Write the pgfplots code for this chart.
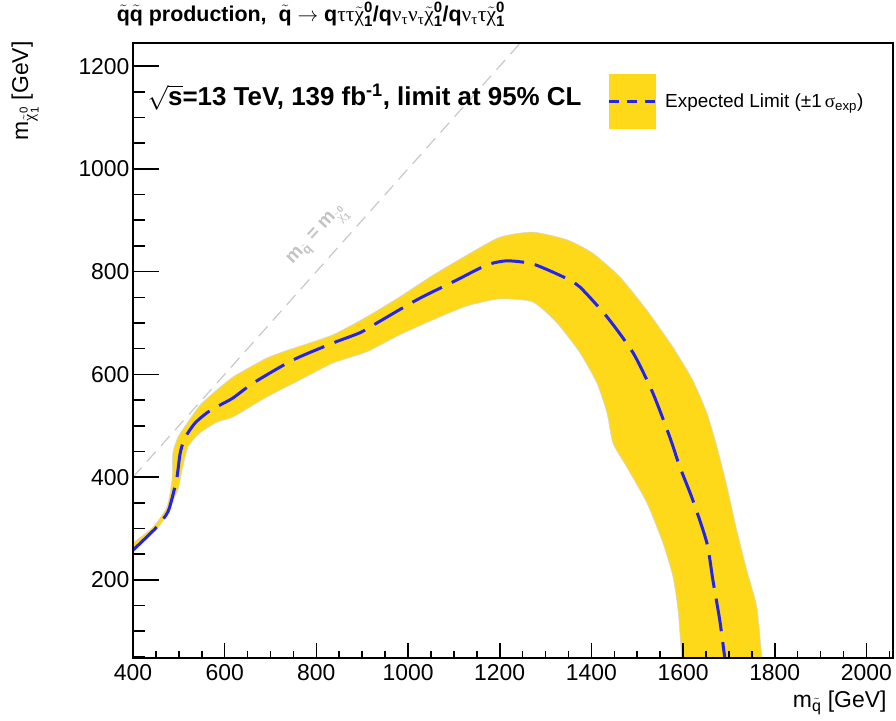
\documentclass[border=0pt]{standalone}
\usepackage{amsmath}
\usepackage{fontspec}
\setmainfont{Liberation Sans}
\newfontfamily\grk{Liberation Serif}
\usepackage{pgfplots}
\pgfplotsset{compat=1.18}
\definecolor{bandyellow}{RGB}{253,217,26}
\definecolor{bandedge}{RGB}{215,215,215}
\definecolor{limblue}{RGB}{35,35,235}
\definecolor{diaggray}{RGB}{200,200,200}
\definecolor{labgray}{RGB}{195,195,195}
\newcommand{\g}[1]{{\grk\mdseries #1}}
\pgfplotsset{
  frame/.style={
    at={(0,0)}, anchor=south west,
    scale only axis, width=760bp, height=615bp,
    xmin=400, xmax=2058, ymin=48, ymax=1245,
    tick align=inside,
    every tick/.style={black, line width=1.6bp},
    axis line style={line width=1.6bp},
    /pgf/number format/1000 sep={},
    /pgf/number format/assume math mode=true,
    scaled ticks=false,
    tick label style={font=\fontsize{23}{27}\selectfont},
    label style={font=\fontsize{23}{27}\selectfont},
  }
}
\begin{document}
\begin{tikzpicture}
\useasboundingbox (-133bp,-63bp) rectangle (763bp,658bp);
\begin{axis}[
  frame,
  xtick=\empty, ytick={0,200,...,1400},
  minor y tick num=3, ytick pos=left,
  major tick length=26bp, minor tick length=12bp,
  axis on top, clip mode=individual,
  xlabel={m$_{\tilde{\text{q}}}$ [GeV]},
  xlabel style={at={(axis description cs:0.996,-0.08)}, anchor=base east},
  ylabel={m$_{\tilde{\text{\g{χ}}}^{\text{0}}_{\text{1}}}$ [GeV]},
  ylabel style={at={(axis description cs:-0.142,1.008)}, anchor=east},
  title={\bfseries $\tilde{\text{q}}\tilde{\text{q}}$ production,\ \ $\tilde{\text{q}}$ $\rightarrow$ q\g{ττ}$\tilde{\text{\g{χ}}}^{\text{0}}_{\text{1}}$/q\g{ν}$_{\text{\g{τ}}}$\g{ν}$_{\text{\g{τ}}}$$\tilde{\text{\g{χ}}}^{\text{0}}_{\text{1}}$/q\g{ν}$_{\text{\g{τ}}}$\g{τ}$\tilde{\text{\g{χ}}}^{\text{0}}_{\text{1}}$},
  title style={at={(axis description cs:-0.026,1.026)}, anchor=base west, font=\fontsize{21.5}{25}\selectfont},
  legend style={at={(axis description cs:0.6237,0.905)}, anchor=west, draw=none, fill=none, inner sep=0pt, font=\fontsize{19}{22}\selectfont},
  legend cell align=left,
]
% kinematic limit
\addplot[forget plot, diaggray, line width=1.2bp, dash pattern=on 13bp off 8bp] coordinates {(400,400) (1245,1245)};
% +-1 sigma band
\addplot[forget plot, fill=bandyellow, draw=bandedge, line width=0.6bp, smooth, tension=0.35] coordinates {
 (400,272) (444,303) (474,342) (485,394) (487,447) (498,478) (518,505) (546,540)
 (583,570) (618,595) (655,614) (692,632) (727,644) (764,655) (836,677) (910,712)
 (982,751) (1054,793) (1128,832) (1200,867) (1272,877) (1347,862) (1403,836)
 (1462,790) (1521,725) (1578,653) (1621,589) (1652,525) (1674,459) (1696,381)
 (1717,297) (1739,219) (1761,147) (1772,48) (1776,20)
 (1598,20) (1597,48) (1589,141) (1578,206) (1556,272) (1521,350) (1477,420)
 (1447,466) (1434,525) (1412,583) (1375,642) (1325,700) (1272,741) (1200,747)
 (1128,733) (1054,706) (982,677) (910,644) (836,622) (764,589) (692,556)
 (618,517) (583,507) (546,486) (520,459) (507,414) (498,375) (481,342)
 (474,326) (452,299) (400,254)
} -- cycle;
% expected limit
\addplot[forget plot, limblue, line width=3bp, dash pattern=on 33bp off 11bp, smooth, tension=0.4] coordinates {
 (400,258) (452,303) (476,332) (487,365) (496,400) (503,447) (513,476) (535,505)
 (561,525) (583,537) (618,554) (662,583) (749,628) (836,661) (895,681) (932,700)
 (1019,745) (1107,784) (1172,813) (1216,821) (1272,815) (1338,790) (1375,770)
 (1434,712) (1491,642) (1534,564) (1571,478) (1593,420) (1621,356) (1652,272)
 (1665,200) (1680,122) (1691,48) (1693,30)
};
\addlegendimage{legend image code/.code={
  \fill[bandyellow] (0bp,-27bp) rectangle (46bp,27bp);
  \draw[limblue, line width=3bp, dash pattern=on 10bp off 8bp] (0bp,0bp) -- (46bp,0bp);}}
\addlegendentry{\hspace*{7bp}Expected Limit (±1\,\g{σ}$_{\text{exp}}$)}
\node[anchor=base west, font=\bfseries\fontsize{26}{30}\selectfont] at (axis description cs:0.0145,0.8976)
  {$\sqrt{\text{s}}$=13 TeV, 139 fb$^{\text{-1}}$, limit at 95\% CL};
\node[rotate=47, text=labgray, font=\bfseries\fontsize{19}{22}\selectfont] at (axis cs:805,868)
  {m$_{\tilde{\text{q}}}$ = m$_{\tilde{\text{\g{χ}}}^{\text{0}}_{\text{1}}}$};
\end{axis}
% x-axis ticks (shorter than the y-axis ticks)
\begin{axis}[
  frame,
  hide y axis, axis x line*=bottom,
  xtick={400,600,...,2200}, minor x tick num=3,
  major tick length=15bp, minor tick length=7bp,
  xticklabel style={yshift=-3bp},
]
\end{axis}
\end{tikzpicture}
\end{document}
